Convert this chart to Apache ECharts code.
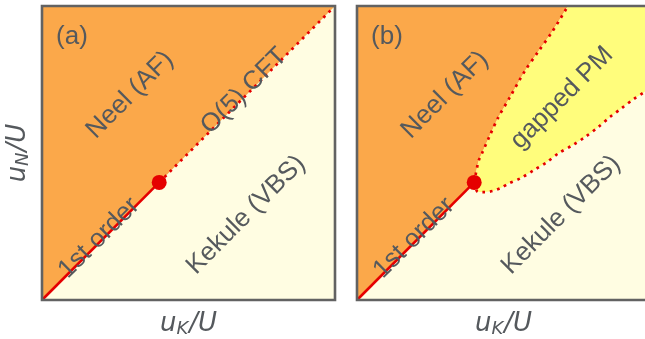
<!DOCTYPE html>
<html>
<head>
<meta charset="utf-8">
<script src="https://cdn.jsdelivr.net/npm/echarts@6/dist/echarts.min.js"></script>
<style>
  html, body { margin: 0; padding: 0; background: #fff; }
  #chart { width: 645px; height: 339px; }
</style>
</head>
<body>
<div id="chart"></div>
<script>
// Phase diagrams in the (u_K/U, u_N/U) plane, both axes scaled to [0, 1].

// Critical point where the first-order line ends
const criticalPoint = [0.40, 0.40];

// Panel (a): first-order segment and the continuous O(5) line
const firstOrderLine = [[0, 0], [0.40, 0.40]];
const cftLine = [[0.40, 0.40], [1, 1]];

// Panel (b): Neel / gapped PM boundary
const neelPmBoundary = [
  [0.40, 0.40], [0.406, 0.432], [0.410, 0.452], [0.416, 0.476], [0.427, 0.500],
  [0.454, 0.561], [0.481, 0.619], [0.522, 0.690], [0.573, 0.779], [0.618, 0.844],
  [0.666, 0.912], [0.720, 1.0]
];
// Panel (b): gapped PM / Kekule boundary
const pmKekuleBoundary = [
  [0.40, 0.40], [0.413, 0.367], [0.437, 0.367], [0.464, 0.371], [0.491, 0.381],
  [0.515, 0.395], [0.560, 0.415], [0.604, 0.442], [0.648, 0.469], [0.689, 0.500],
  [0.737, 0.527], [0.778, 0.554], [0.823, 0.588], [0.863, 0.622], [0.904, 0.653],
  [0.945, 0.684], [0.976, 0.704], [1.0, 0.721]
];

const ORANGE = '#FBA84A';
const PALE = '#FFFDE2';
const PM_YELLOW = '#FFFD7C';
const RED = '#E50000';
const FRAME = '#626262';
const TEXT = '#55595d';

// Region polygons, built from the boundary arrays
const neelRegionA = [[0, 0], [1, 1], [0, 1]];
const neelRegionB = [[0, 0]].concat(neelPmBoundary, [[0, 1]]);
const pmRegionB = neelPmBoundary.concat([[1, 1]], pmKekuleBoundary.slice().reverse());

function polygonSeries(gridIdx, pts, color, z) {
  return {
    type: 'custom',
    xAxisIndex: gridIdx, yAxisIndex: gridIdx,
    z: z,
    silent: true,
    data: [0],
    renderItem: function (params, api) {
      return {
        type: 'polygon',
        shape: { points: pts.map(p => api.coord(p)) },
        style: { fill: color, stroke: null }
      };
    }
  };
}

function frameSeries(gridIdx) {
  return {
    type: 'custom',
    xAxisIndex: gridIdx, yAxisIndex: gridIdx,
    z: 10,
    silent: true,
    data: [0],
    renderItem: function (params, api) {
      const a = api.coord([0, 0]);
      const b = api.coord([1, 1]);
      return {
        type: 'rect',
        shape: { x: a[0], y: b[1], width: b[0] - a[0], height: a[1] - b[1] },
        style: { fill: null, stroke: FRAME, lineWidth: 2.6 }
      };
    }
  };
}

function lineSeries(gridIdx, data, dotted, smooth) {
  return {
    type: 'line',
    xAxisIndex: gridIdx, yAxisIndex: gridIdx,
    data: data,
    z: 5,
    smooth: smooth || false,
    showSymbol: false,
    symbol: 'none',
    silent: true,
    lineStyle: dotted
      ? { color: RED, width: 2.7, type: [2.7, 4.8], cap: 'butt' }
      : { color: RED, width: 2.6 }
  };
}

function dotSeries(gridIdx) {
  return {
    type: 'scatter',
    xAxisIndex: gridIdx, yAxisIndex: gridIdx,
    data: [criticalPoint],
    symbolSize: 15,
    z: 8,
    silent: true,
    itemStyle: { color: RED, opacity: 1 }
  };
}

const nameRich = {
  i: { fontFamily: 'DejaVu Sans', fontStyle: 'italic', fontSize: 26, color: TEXT },
  s: { fontFamily: 'DejaVu Sans', fontStyle: 'italic', fontSize: 18, color: TEXT, padding: [10, 1, 0, 0] }
};

function xAxisFor(gridIdx) {
  return {
    type: 'value', gridIndex: gridIdx, min: 0, max: 1,
    axisLine: { show: false }, axisTick: { show: false },
    axisLabel: { show: false }, splitLine: { show: false },
    name: '{i|u}{s|K}{i|/U}',
    nameLocation: 'middle', nameGap: 10,
    nameTextStyle: { rich: nameRich }
  };
}

function yAxisFor(gridIdx, withName) {
  const ax = {
    type: 'value', gridIndex: gridIdx, min: 0, max: 1,
    axisLine: { show: false }, axisTick: { show: false },
    axisLabel: { show: false }, splitLine: { show: false }
  };
  if (withName) {
    ax.name = '{i|u}{s|N}{i|/U}';
    ax.nameLocation = 'middle';
    ax.nameGap = 10;
    ax.nameRotate = 90;
    ax.nameTextStyle = { rich: nameRich };
  }
  return ax;
}

function label(text, x, y, rot) {
  return {
    type: 'text', x: x, y: y, rotation: rot || 0, z: 20, silent: true,
    style: {
      text: text, fill: TEXT, align: 'center', verticalAlign: 'middle',
      font: '26px "Liberation Sans", Arial, sans-serif'
    }
  };
}

const R = Math.PI / 4;
const chart = echarts.init(document.getElementById('chart'), null, { renderer: 'canvas' });
chart.setOption({
  animation: false,
  backgroundColor: '#ffffff',
  grid: [
    { left: 42, top: 6, width: 293, height: 294, show: true, backgroundColor: PALE, borderWidth: 0, outerBoundsMode: 'none', containLabel: false },
    { left: 357, top: 6, width: 293, height: 294, show: true, backgroundColor: PALE, borderWidth: 0, outerBoundsMode: 'none', containLabel: false }
  ],
  xAxis: [xAxisFor(0), xAxisFor(1)],
  yAxis: [yAxisFor(0, true), yAxisFor(1, false)],
  series: [
    polygonSeries(0, neelRegionA, ORANGE, 1),
    lineSeries(0, firstOrderLine, false),
    lineSeries(0, cftLine, true),
    dotSeries(0),
    frameSeries(0),

    polygonSeries(1, neelRegionB, ORANGE, 1),
    polygonSeries(1, pmRegionB, PM_YELLOW, 1),
    lineSeries(1, firstOrderLine, false),
    lineSeries(1, neelPmBoundary, true, 0.3),
    lineSeries(1, pmKekuleBoundary, true, 0.3),
    dotSeries(1),
    frameSeries(1)
  ],
  graphic: [
    label('(a)', 72, 37),
    label('Neel (AF)', 130, 95, R),
    label('O(5) CFT', 244, 91, R),
    label('1st order', 99, 238, R),
    label('Kekule (VBS)', 246, 215, R),

    label('(b)', 387, 37),
    label('Neel (AF)', 445, 95, R),
    label('gapped PM', 562, 98, R),
    label('1st order', 414, 238, R),
    label('Kekule (VBS)', 561, 215, R)
  ]
});
</script>
</body>
</html>
